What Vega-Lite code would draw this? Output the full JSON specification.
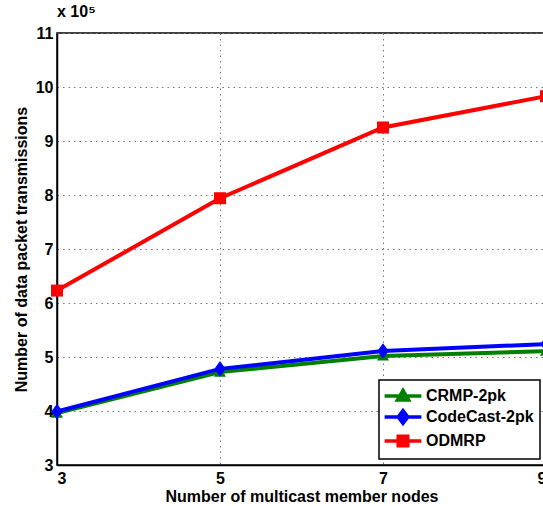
{
  "$schema": "https://vega.github.io/schema/vega-lite/v6.json",
  "autosize": {"type": "none"},
  "padding": {"left": 57, "top": 33, "right": 0, "bottom": 41},
  "width": 489,
  "height": 432,
  "background": "white",
  "title": {"text": "x 10⁵", "anchor": "start", "frame": "group", "offset": 5, "fontSize": 16, "fontWeight": "bold", "font": "Liberation Sans", "color": "black"},
  "data": {"values": [
    {"nodes": 3, "protocol": "CRMP-2pk", "transmissions": 396000},
    {"nodes": 5, "protocol": "CRMP-2pk", "transmissions": 472000},
    {"nodes": 7, "protocol": "CRMP-2pk", "transmissions": 502000},
    {"nodes": 9, "protocol": "CRMP-2pk", "transmissions": 511000},
    {"nodes": 3, "protocol": "CodeCast-2pk", "transmissions": 399000},
    {"nodes": 5, "protocol": "CodeCast-2pk", "transmissions": 478000},
    {"nodes": 7, "protocol": "CodeCast-2pk", "transmissions": 511000},
    {"nodes": 9, "protocol": "CodeCast-2pk", "transmissions": 524000},
    {"nodes": 3, "protocol": "ODMRP", "transmissions": 623000},
    {"nodes": 5, "protocol": "ODMRP", "transmissions": 794000},
    {"nodes": 7, "protocol": "ODMRP", "transmissions": 925000},
    {"nodes": 9, "protocol": "ODMRP", "transmissions": 983000}
  ]},
  "encoding": {
    "x": {"field": "nodes", "type": "quantitative", "scale": {"domain": [3, 9], "zero": false, "nice": false},
      "axis": {"values": [3, 5, 7, 9], "title": "Number of multicast member nodes", "labelPadding": 5, "titlePadding": 2}},
    "y": {"field": "transmissions", "type": "quantitative", "scale": {"domain": [300000, 1100000], "zero": false, "nice": false},
      "axis": {"values": [300000, 400000, 500000, 600000, 700000, 800000, 900000, 1000000, 1100000], "labelExpr": "format(datum.value / 100000, 'd')", "title": "Number of data packet transmissions", "labelPadding": 4, "titlePadding": 6}}
  },
  "layer": [
    {
      "transform": [{"filter": "datum.protocol === 'CRMP-2pk'"}],
      "mark": {"type": "line", "strokeWidth": 4, "color": "#008000", "clip": false,
        "point": {"filled": true, "opacity": 1, "size": 200, "color": "#008000", "shape": "M0,-0.85L0.85,0.65L-0.85,0.65Z"}}
    },
    {
      "transform": [{"filter": "datum.protocol === 'CodeCast-2pk'"}],
      "mark": {"type": "line", "strokeWidth": 4, "color": "#0000ff", "clip": false,
        "point": {"filled": true, "opacity": 1, "size": 200, "color": "#0000ff", "shape": "M0,-1.1L0.8,0L0,1.1L-0.8,0Z"}}
    },
    {
      "transform": [{"filter": "datum.protocol === 'ODMRP'"}],
      "mark": {"type": "line", "strokeWidth": 4, "color": "#ff0000", "clip": false,
        "point": {"filled": true, "opacity": 1, "size": 200, "color": "#ff0000", "shape": "M-0.85,-0.85H0.85V0.85H-0.85Z"}}
    },
    {
      "mark": {"type": "point", "opacity": 0},
      "encoding": {
        "fill": {"field": "protocol", "type": "nominal", "scale": {"domain": ["CRMP-2pk", "CodeCast-2pk", "ODMRP"], "range": ["#008000", "#0000ff", "#ff0000"]}, "legend": {"title": null}},
        "stroke": {"field": "protocol", "type": "nominal", "scale": {"domain": ["CRMP-2pk", "CodeCast-2pk", "ODMRP"], "range": ["#008000", "#0000ff", "#ff0000"]}, "legend": {"title": null}},
        "shape": {"field": "protocol", "type": "nominal", "scale": {"domain": ["CRMP-2pk", "CodeCast-2pk", "ODMRP"], "range": ["M-2.3,0H2.3M0,-0.7L0.7,0.5L-0.7,0.5Z", "M-2.3,0H2.3M0,-0.8L0.6,0L0,0.8L-0.6,0Z", "M-2.3,0H2.3M-0.6,-0.6H0.6V0.6H-0.6Z"]}, "legend": {"title": null}}
      }
    }
  ],
  "config": {
    "font": "Liberation Sans",
    "view": {"stroke": "black", "strokeWidth": 1.5},
    "axis": {
      "labelFont": "Liberation Sans", "labelFontSize": 16, "labelFontWeight": "bold", "labelColor": "black",
      "titleFont": "Liberation Sans", "titleFontSize": 16, "titleFontWeight": "bold", "titleColor": "black",
      "domainColor": "black", "domainWidth": 1.5, "ticks": false,
      "grid": true, "gridColor": "#777777", "gridDash": [1.5, 4], "gridWidth": 1, "gridOpacity": 1
    },
    "legend": {
      "orient": "bottom-right", "offset": 6, "padding": 6,
      "fillColor": "white", "strokeColor": "black", "strokeWidth": 1.5,
      "symbolSize": 256, "symbolStrokeWidth": 3.5, "symbolOffset": 8, "symbolOpacity": 1,
      "labelOffset": 13, "labelFont": "Liberation Sans", "labelFontSize": 16, "labelFontWeight": "bold", "labelColor": "black",
      "rowPadding": -10, "labelLimit": 300
    }
  }
}
